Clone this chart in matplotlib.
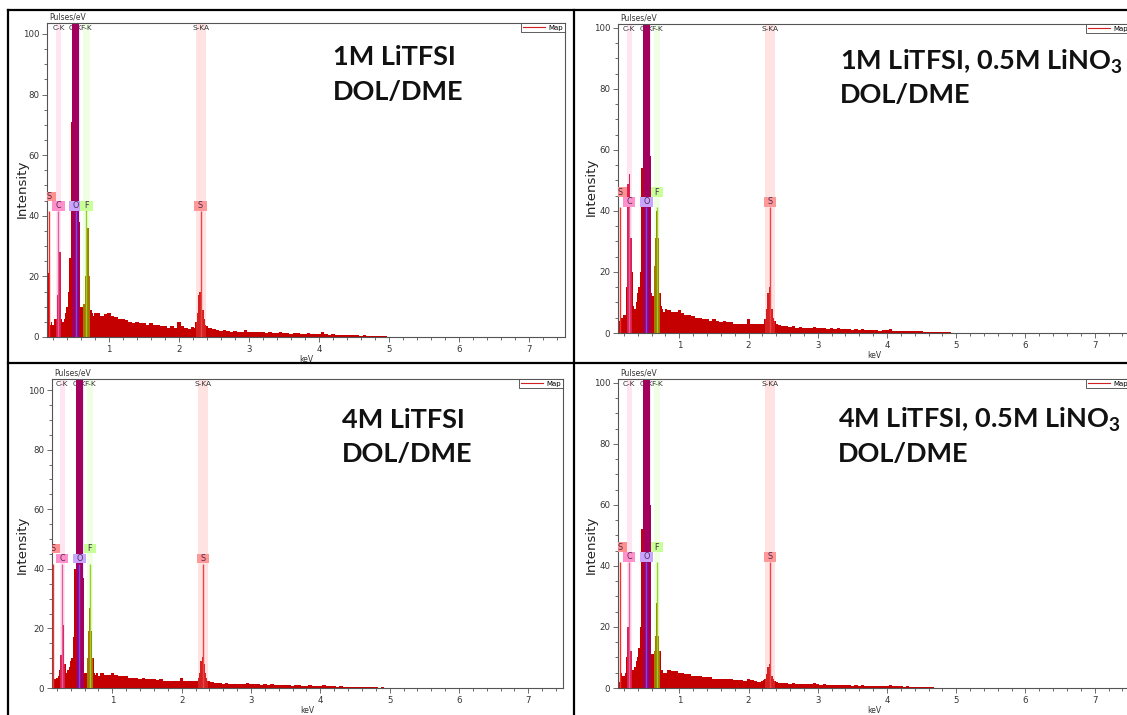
import numpy as np
import matplotlib.pyplot as plt
from matplotlib.patches import Rectangle
from matplotlib.lines import Line2D
from matplotlib.ticker import MultipleLocator

plt.rcParams['mathtext.fontset'] = 'custom'
plt.rcParams['mathtext.rm'] = 'Lato:bold'
plt.rcParams['mathtext.default'] = 'rm'

W, H = 1127, 715

# energy channels (keV): fine steps around C/O/F and S-KA, coarser elsewhere
kev = np.round(np.concatenate([
    np.arange(0.12, 0.81, 0.02),   # 35
    np.arange(0.85, 2.21, 0.05),   # 28
    np.arange(2.22, 2.45, 0.02),   # 12
    np.arange(2.50, 5.01, 0.05),   # 51
]), 2)

# counts (O-K peak is off scale, 300 = clipped)
counts_1m = [
    5, 21, 4, 5, 4, 6, 6, 14, 36, 28, 6, 5, 6, 8, 10, 15, 26, 71,
    300, 300, 300, 300, 300, 38, 10, 10, 11, 20, 42, 36, 20, 9, 8, 7, 8,
    8, 7, 7.5, 8, 7, 6.5, 6, 6, 5.5, 5, 4.5, 5, 4.5, 4.5, 4, 4.5, 4, 4,
    3.5, 3.5, 3, 3.5, 3, 5, 3.5, 3, 2.8, 3.2,
    3, 5, 8, 14, 15, 13, 9, 6, 4, 3.5, 3, 3,
    2.5, 2.2, 2.0, 2.3, 1.9, 1.8, 2.0, 1.7, 1.8, 2.2,
    1.7, 1.6, 1.8, 1.5, 1.6, 1.4, 1.6, 1.3, 1.4, 1.5,
    1.2, 1.3, 1.1, 1.4, 1.2, 1.0, 1.1, 1.2, 0.9, 1.0,
    1.1, 1.6, 0.9, 0.8, 0.9, 0.7, 0.8, 0.6, 0.7, 0.5,
    0.6, 0.5, 0.4, 0.5, 0.3, 0.4, 0.3, 0.2, 0.3, 0.2, 0.0,
]
counts_1m_no3 = [
    4, 4, 5, 5, 6, 6, 15, 49, 52, 31, 20, 9, 8, 10, 13, 15, 20, 54,
    300, 300, 300, 300, 300, 58, 13, 12, 22, 31, 40, 31, 13, 9, 8, 7, 8,
    7.5, 7, 7, 7.5, 6.5, 6, 6, 5.5, 5, 5, 4.5, 4.5, 4, 4.5, 4, 3.5, 4,
    3.5, 3.5, 3, 3, 3, 3, 4.5, 3, 2.8, 3, 3,
    3, 4.5, 8, 13, 15, 12, 8, 5, 4, 3, 3, 2.5,
    2.4, 2.2, 2.0, 2.2, 1.8, 1.9, 1.7, 1.8, 1.6, 2.0,
    1.6, 1.5, 1.7, 1.4, 1.5, 1.3, 1.5, 1.2, 1.3, 1.4,
    1.1, 1.2, 1.0, 1.3, 1.1, 1.0, 1.0, 1.1, 0.8, 0.9,
    1.0, 1.4, 0.8, 0.7, 0.8, 0.6, 0.7, 0.5, 0.6, 0.5,
    0.5, 0.4, 0.4, 0.4, 0.3, 0.3, 0.3, 0.2, 0.2, 0.1, 0.0,
]
counts_4m = [
    4, 3.5, 3, 3, 3.5, 4, 6, 11, 32, 21, 8, 5, 6, 7, 9, 10, 17, 40,
    300, 300, 300, 300, 300, 37, 5, 5, 10, 19, 27, 19, 10, 5, 4.5, 5, 4,
    5, 4.5, 4.5, 5, 4.5, 4, 4, 4, 3.5, 3.5, 3.5, 3, 3.5, 3, 3, 3, 2.8, 3,
    2.5, 2.5, 2.5, 2.2, 2.5, 3.5, 2.5, 2.2, 2.2, 2.5,
    2.5, 3.5, 5, 9, 10.5, 8, 5, 3.5, 2.5, 2.2, 2, 2,
    1.8, 1.6, 1.5, 1.7, 1.4, 1.5, 1.3, 1.4, 1.3, 1.6,
    1.3, 1.2, 1.4, 1.1, 1.2, 1.0, 1.2, 1.0, 1.1, 1.1,
    0.9, 1.0, 0.8, 1.0, 0.9, 0.8, 0.8, 0.9, 0.7, 0.7,
    0.8, 1.1, 0.6, 0.6, 0.6, 0.5, 0.6, 0.4, 0.5, 0.4,
    0.4, 0.3, 0.3, 0.3, 0.2, 0.3, 0.2, 0.1, 0.2, 0.1, 0.0,
]
counts_4m_no3 = [
    5, 2, 5, 4, 4, 5, 10, 20, 28, 12, 6, 6, 7, 9, 10, 13, 20, 52,
    300, 300, 300, 300, 300, 60, 11, 11, 12, 17, 28, 17, 12, 6, 6, 5, 5,
    6, 5.5, 5.5, 5, 5, 4.5, 4.5, 4, 4, 4, 3.5, 3.5, 3.5, 3, 3, 3, 3, 2.8,
    2.8, 2.5, 2.5, 2.5, 2.2, 3, 2.5, 2.2, 2, 2.2,
    2.5, 3, 4.5, 7, 8, 6.5, 4, 3, 2.2, 2, 2, 1.8,
    1.7, 1.6, 1.4, 1.6, 1.3, 1.4, 1.2, 1.3, 1.2, 1.5,
    1.2, 1.1, 1.3, 1.0, 1.1, 0.9, 1.1, 0.9, 1.0, 1.0,
    0.8, 0.9, 0.7, 0.9, 0.8, 0.7, 0.7, 0.8, 0.6, 0.6,
    0.7, 0.9, 0.5, 0.5, 0.5, 0.4, 0.5, 0.3, 0.4, 0.3,
    0.3, 0.2, 0.2, 0.2, 0.1, 0.1, 0.0, 0.0, 0.0, 0.0, 0.0,
]

titles = [
    ('1M LiTFSI', 'DOL/DME'),
    (r'1M LiTFSI, 0.5M LiNO$_{3}$', 'DOL/DME'),
    ('4M LiTFSI', 'DOL/DME'),
    (r'4M LiTFSI, 0.5M LiNO$_{3}$', 'DOL/DME'),
]

# element lines: name, energy, band range, light band colour, spectrum tint
bands = [
    ('C-K', 0.277, 0.245, 0.315, '#ffe4f1', '#dc1f50'),
    ('O-K', 0.525, 0.470, 0.586, '#efe4ff', '#a2005c'),
    ('F-K', 0.677, 0.630, 0.726, '#f0ffe4', '#a27a00'),
    ('S-KA', 2.307, 2.242, 2.382, '#ffe2e2', '#d42222'),
]
# markers: symbol, energy, box colour, line colour
markers = [
    ('S', 0.149, '#ff9090', '#ff2a2a'),
    ('C', 0.277, '#ff90cc', '#e0609f'),
    ('O', 0.525, '#c9a5ff', '#7048ff'),
    ('F', 0.677, '#c8ff98', '#98d028'),
    ('S', 2.307, '#ff9898', '#ee4444'),
]

RED = '#c40000'

# panel layout in pixels: axes (left, top, right, bottom), limits, label rows
panels = [
    dict(rect=(47, 23, 565, 337), xlim=(0.114, 7.514), ytop=103.6,
         counts=counts_1m, rows=(43.3, 46.4), f_up=False,
         tx=333, ty=(65, 100), ylab=(22, 189)),
    dict(rect=(618, 24, 1130, 333), xlim=(0.115, 7.51), ytop=101.3,
         counts=counts_1m_no3, rows=(43.0, 46.2), f_up=True,
         tx=840, ty=(70, 103), ylab=(591, 187)),
    dict(rect=(52, 379, 563, 688), xlim=(0.13, 7.5), ytop=103.7,
         counts=counts_4m, rows=(43.5, 46.8), f_up=True,
         tx=342, ty=(428, 462), ylab=(22, 545)),
    dict(rect=(618, 379, 1130, 688), xlim=(0.115, 7.51), ytop=101.3,
         counts=counts_4m_no3, rows=(43.0, 46.2), f_up=True,
         tx=838, ty=(428, 462), ylab=(591, 545)),
]

fig = plt.figure(figsize=(W / 100, H / 100), dpi=100)


def fx(px):
    return px / W


def fy(py):
    return 1 - py / H


for p, title in zip(panels, titles):
    l, t, r, b = p['rect']
    ax = fig.add_axes([fx(l), fy(b), (r - l) / W, (b - t) / H])
    ax.set_xlim(*p['xlim'])
    ax.set_ylim(0, p['ytop'])
    counts = np.array(p['counts'], dtype=float)

    # element bands and their names at the top
    for name, e, lo, hi, light, tint in bands:
        ax.axvspan(lo, hi, color=light, lw=0, zorder=0.5)
        ax.text(e, 0.993, name, transform=ax.get_xaxis_transform(),
                ha='center', va='top', fontsize=5.3, color='#333333',
                zorder=1)

    # spectrum, tinted inside each band
    ax.fill_between(kev, counts, step='mid', color=RED, lw=0, zorder=2)
    for name, e, lo, hi, light, tint in bands:
        poly = ax.fill_between(kev, counts, step='mid', color=tint, lw=0,
                               zorder=2.1)
        poly.set_clip_path(Rectangle((lo, 0), hi - lo, p['ytop'],
                                     transform=ax.transData))

    # marker boxes and lines
    row0, row1 = p['rows']
    for sym, e, boxc, linec in markers:
        up = (sym == 'S' and e < 0.2) or (sym == 'F' and p['f_up'])
        yc = row1 if up else row0
        ax.vlines(e, 0, row0 - 1.8, color=linec, lw=1.0, zorder=3)
        bw = 0.18
        ax.add_patch(Rectangle((e - bw / 2, yc - 1.6), bw, 3.2, fc=boxc,
                               ec='none', zorder=4))
        ax.text(e, yc, sym, ha='center', va='center', fontsize=5.8,
                color='#4a2a4a', zorder=5, clip_on=True)

    # axes styling
    for s in ax.spines.values():
        s.set_color('#555555')
        s.set_linewidth(0.8)
    ax.xaxis.set_major_locator(MultipleLocator(1))
    ax.xaxis.set_minor_locator(MultipleLocator(0.2))
    ax.yaxis.set_major_locator(MultipleLocator(20))
    ax.yaxis.set_minor_locator(MultipleLocator(5))
    ax.tick_params(which='both', direction='out', color='#555555',
                   labelsize=6.2, labelcolor='#333333', width=0.6, pad=2)
    ax.tick_params(which='major', length=3.5)
    ax.tick_params(which='minor', length=2)
    ax.set_xlabel('keV', fontsize=5.5, labelpad=1, color='#333333')
    ax.text(0.005, 1.004, 'Pulses/eV', transform=ax.transAxes,
            fontsize=5.5, va='bottom', ha='left', color='#333333')

    leg = ax.legend(handles=[Line2D([], [], color='#d02020', lw=0.8)],
                    labels=['Map'], loc='upper right',
                    bbox_to_anchor=(1, 1), borderaxespad=0, fontsize=5,
                    fancybox=False, edgecolor='#444444', framealpha=1,
                    handlelength=3.2, handletextpad=0.5, borderpad=0.25)
    leg.get_frame().set_linewidth(0.6)

    fig.text(fx(p['ylab'][0]), fy(p['ylab'][1]), 'Intensity', rotation=90,
             ha='center', va='center', fontsize=9.6, color='#222222')

    for line, by in zip(title, p['ty']):
        fig.text(fx(p['tx']), fy(by), line, fontsize=19.5, family='Lato',
                 weight='bold', ha='left', va='baseline', color='#111111')

# screenshot separators
sep = dict(color='black', lw=1.6, transform=fig.transFigure)
fig.add_artist(Line2D([fx(8), 1], [fy(10), fy(10)], **sep))
fig.add_artist(Line2D([fx(8), fx(8)], [fy(10), 0], **sep))
fig.add_artist(Line2D([fx(573.5), fx(573.5)], [fy(10), 0], **sep))
fig.add_artist(Line2D([fx(8), 1], [fy(363.5), fy(363.5)], **sep))

fig.savefig('out.png', dpi=100)
